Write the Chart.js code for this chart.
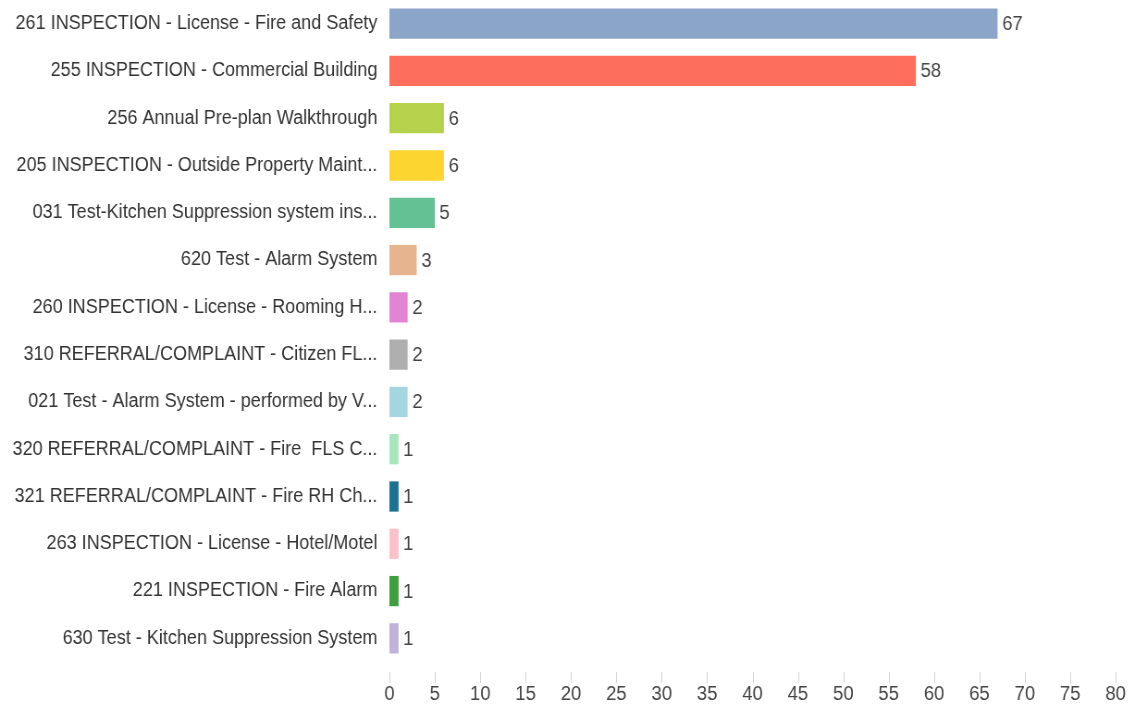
<!DOCTYPE html>
<html>
<head>
<meta charset="utf-8">
<script src="https://cdn.jsdelivr.net/npm/chart.js@4/dist/chart.umd.min.js"></script>
<style>
  html, body { margin: 0; padding: 0; background: #fff; overflow: hidden; }
  /* the source picture is a horizontally squeezed screenshot, so draw wider and squeeze */
  #wrap { width: 1226px; height: 706px; transform: scaleX(0.925); transform-origin: 0 0; }
</style>
</head>
<body>
<div id="wrap"><canvas id="chart"></canvas></div>
<script>
const categories = [
  '261 INSPECTION - License - Fire and Safety',
  '255 INSPECTION - Commercial Building',
  '256 Annual Pre-plan Walkthrough',
  '205 INSPECTION - Outside Property Maint...',
  '031 Test-Kitchen Suppression system ins...',
  '620 Test - Alarm System',
  '260 INSPECTION - License - Rooming H...',
  '310 REFERRAL/COMPLAINT - Citizen FL...',
  '021 Test - Alarm System - performed by V...',
  '320 REFERRAL/COMPLAINT - Fire  FLS C...',
  '321 REFERRAL/COMPLAINT - Fire RH Ch...',
  '263 INSPECTION - License - Hotel/Motel',
  '221 INSPECTION - Fire Alarm',
  '630 Test - Kitchen Suppression System'
];
const counts = [67, 58, 6, 6, 5, 3, 2, 2, 2, 1, 1, 1, 1, 1];
const barColors = [
  '#8aa5c8', '#fd6e5c', '#b6d24c', '#fdd530', '#63c194', '#e6b48f', '#e284d3',
  '#afafaf', '#a5d6e0', '#a7e6bd', '#1e7291', '#fbc1c9', '#3e9f3e', '#c1b2dc'
];
const xMin = 0, xMax = 80, xStep = 5;

const fontFamily = '"Liberation Sans", Arial, sans-serif';

// numbers at the end of the bars + small tick marks under the plot
const extras = {
  id: 'extras',
  afterDatasetsDraw(chart) {
    const ctx = chart.ctx;
    const meta = chart.getDatasetMeta(0);
    ctx.save();
    ctx.font = '20px ' + fontFamily;
    ctx.fillStyle = '#444';
    ctx.textAlign = 'left';
    ctx.textBaseline = 'middle';
    meta.data.forEach((bar, i) => {
      ctx.fillText(String(counts[i]), bar.x + 5, bar.y + 1);
    });

    const xs = chart.scales.x;
    const y0 = chart.chartArea.bottom + 10;
    ctx.strokeStyle = '#d4d4d4';
    ctx.lineWidth = 1;
    xs.ticks.forEach(t => {
      const px = Math.round(xs.getPixelForValue(t.value)) + 0.5;
      ctx.beginPath();
      ctx.moveTo(px, y0);
      ctx.lineTo(px, y0 + 11);
      ctx.stroke();
    });
    ctx.restore();
  }
};

new Chart(document.getElementById('chart'), {
  type: 'bar',
  data: {
    labels: categories,
    datasets: [{
      data: counts,
      backgroundColor: barColors,
      categoryPercentage: 1,
      barPercentage: 0.64
    }]
  },
  options: {
    indexAxis: 'y',
    responsive: true,
    maintainAspectRatio: false,
    animation: false,
    layout: { padding: { top: -2, right: 20, left: 7, bottom: 0 } },
    plugins: {
      legend: { display: false },
      tooltip: { enabled: false }
    },
    scales: {
      x: {
        min: xMin,
        max: xMax,
        ticks: {
          stepSize: xStep,
          color: '#444',
          font: { family: fontFamily, size: 20 },
          padding: 20
        },
        grid: { display: false, drawTicks: false },
        border: { display: false },
        afterFit(scale) {
          scale.height = 44;
          scale.paddingLeft = 0;
          scale.paddingRight = 0;
        }
      },
      y: {
        ticks: {
          color: '#333',
          font: { family: fontFamily, size: 19.5 },
          padding: 13,
          autoSkip: false
        },
        grid: { display: false, drawTicks: false },
        border: { display: false },
        afterFit(scale) {
          scale.width = 414;
          scale.paddingTop = 0;
          scale.paddingBottom = 0;
        }
      }
    }
  },
  plugins: [extras]
});
</script>
</body>
</html>
